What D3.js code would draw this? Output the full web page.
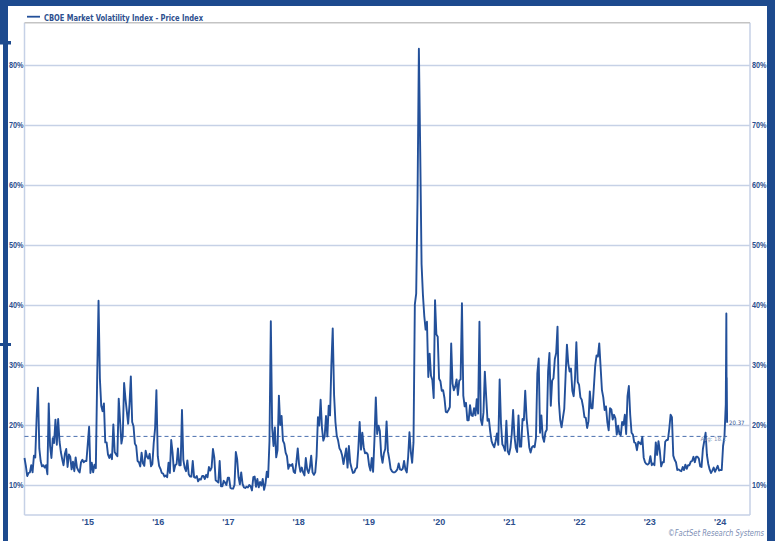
<!DOCTYPE html>
<html>
<head>
  <title>CBOE Market Volatility Index</title>
  <script src="https://d3js.org/d3.v7.min.js"></script>
  <style>
    body {
      margin: 0;
      background-color: #ffffff;
      font-family: "Liberation Sans Narrow", "Arial Narrow", "DejaVu Sans Condensed", sans-serif;
    }
    .axis text {
      font-size: 9px;
      font-weight: bold;
      fill: #2d4f8e;
    }
    .axis path { display: none; }
    .grid line {
      stroke: #c6d1e6;
      stroke-width: 1.5;
    }
    .grid path { display: none; }
    .vix-line {
      fill: none;
      stroke: #23509a;
      stroke-width: 1.9;
      stroke-linejoin: round;
    }
  </style>
</head>
<body>
  <div id="chart"></div>
  <script type="module">
    // weekly closes (Fridays)
    const vix2014 = [14.5, 13.2, 11.5, 12.0, 12.1, 13.3, 12.1, 14.9, 14.6, 21.2, 26.2, 16.1, 14.0, 13.1, 13.3, 12.9, 13.3, 11.8, 23.6, 16.5, 14.5];
    const vix2015 = [17.8, 17.0, 20.9, 16.7, 21.0, 17.3, 15.5, 14.3, 13.3, 15.2, 16.0, 13.0, 15.1, 14.7, 12.6, 13.9, 12.3,
      14.6, 12.9, 12.4, 12.1, 13.8, 14.2, 13.8, 14.0, 14.0, 16.8, 19.7, 12.0, 13.7, 12.1, 13.4, 12.8, 28.0, 40.7,
      27.8, 23.2, 22.3, 23.6, 17.1, 17.1, 15.1, 14.5, 15.1, 14.3, 20.1, 15.5, 15.1, 14.8, 24.4, 20.7, 16.9];
    const vix2016 = [18.2, 27.0, 24.4, 22.3, 20.2, 23.4, 28.1, 20.5, 19.8, 16.9, 16.5, 14.0, 13.8, 13.1, 15.4, 13.6, 13.2, 15.7,
      14.7, 14.4, 15.2, 13.1, 13.5, 17.0, 19.4, 25.8, 14.8, 13.2, 12.7, 12.0, 11.9, 11.4, 11.6, 11.3, 13.7,
      12.0, 17.5, 15.4, 12.3, 13.3, 13.5, 16.1, 13.3, 13.3, 22.5, 14.2, 12.9, 12.3, 14.1, 11.8, 11.4, 11.4, 14.0];
    const vix2017 = [11.3, 11.2, 11.5, 10.6, 11.0, 10.9, 11.5, 11.5, 11.0, 11.7, 11.3, 13.0, 12.4, 12.9, 16.0, 14.6, 10.8,
      10.6, 10.4, 14.0, 9.8, 9.8, 10.7, 10.4, 10.0, 11.2, 11.2, 9.5, 9.4, 9.4, 10.0, 15.5, 14.3, 11.3,
      10.1, 12.1, 10.2, 9.6, 9.5, 9.7, 9.6, 10.0, 9.8, 9.1, 11.3, 11.4, 9.7, 11.0, 9.6, 10.5, 9.9, 11.0];
    const vix2018 = [9.2, 10.2, 12.2, 11.3, 17.3, 37.3, 19.5, 16.5, 19.6, 14.6, 15.8, 24.9, 20.0, 21.5, 17.4, 16.9, 15.4,
      14.8, 12.7, 13.4, 13.2, 13.5, 12.2, 12.0, 13.8, 16.1, 13.4, 12.2, 12.9, 12.1, 11.6, 14.5, 12.6, 12.0, 12.9,
      14.9, 12.1, 11.7, 12.1, 14.8, 21.3, 19.9, 24.2, 19.5, 17.4, 18.1, 21.5, 18.1, 23.2, 21.6, 30.1, 36.1];
    const vix2019 = [25.0, 20.5, 18.2, 17.4, 16.1, 15.7, 14.9, 13.5, 14.8, 16.1, 12.9, 16.5, 13.7, 12.8, 12.0, 12.1, 12.7,
      12.9, 16.0, 20.5, 15.9, 18.7, 16.3, 15.3, 15.4, 15.1, 13.3, 12.4, 14.5, 12.2, 17.6, 24.6, 18.5, 19.9, 19.0,
      15.0, 13.7, 15.3, 16.0, 20.6, 15.6, 14.3, 12.7, 12.3, 12.1, 12.1, 12.3, 12.6, 13.6, 12.6, 12.5, 12.7];
    const vix2020 = [14.0, 12.6, 12.1, 14.6, 18.8, 15.5, 13.7, 17.1, 40.1, 41.9, 57.8, 82.7, 65.5, 46.8, 41.7, 38.2, 35.9,
      37.2, 28.0, 31.9, 28.2, 27.5, 24.5, 40.8, 35.1, 34.7, 27.7, 27.3, 25.7, 25.8, 24.5, 22.2, 22.1, 22.5, 23.0,
      33.6, 26.9, 25.8, 26.4, 27.6, 25.0, 27.4, 27.6, 40.3, 24.9, 23.1, 23.7, 20.8, 20.8, 23.3, 21.6, 21.5];
    const vix2021 = [22.8, 21.6, 24.3, 21.9, 37.2, 20.9, 20.0, 22.1, 28.9, 24.7, 20.7, 21.0, 18.9, 17.3, 16.7, 16.3, 17.3, 18.6,
      16.7, 27.6, 20.2, 16.8, 16.4, 15.7, 20.7, 15.6, 15.1, 16.2, 18.5, 22.5, 18.2, 16.2, 15.5, 21.6, 16.4,
      16.4, 21.0, 20.8, 25.7, 21.2, 18.8, 16.3, 15.4, 16.3, 16.5, 16.3, 17.9, 28.6, 31.1, 18.7, 21.6, 18.0, 17.2];
    const vix2022 = [18.8, 19.2, 28.9, 32.0, 23.2, 27.4, 27.8, 31.0, 32.0, 36.4, 23.9, 20.8, 19.6, 21.2, 22.7, 28.2, 33.4,
      30.2, 28.9, 29.4, 25.7, 24.8, 27.8, 33.8, 27.2, 26.7, 24.6, 24.2, 23.0, 21.3, 21.2, 19.5, 20.6, 25.6,
      22.8, 22.8, 26.3, 29.9, 31.6, 31.4, 33.6, 29.7, 25.8, 24.6, 22.5, 23.1, 20.5, 19.1, 22.8, 22.6, 20.9, 21.7];
    const vix2023 = [21.1, 18.4, 19.9, 18.5, 18.3, 20.5, 20.0, 21.7, 18.5, 24.8, 26.5, 21.7, 18.7, 18.4, 17.1, 17.0, 15.8,
      17.2, 17.0, 16.8, 18.0, 14.6, 13.8, 13.5, 13.4, 13.6, 14.8, 13.3, 13.6, 13.3, 17.1, 15.0, 17.3, 15.7,
      13.1, 13.8, 13.8, 17.2, 17.5, 17.5, 19.3, 21.7, 21.3, 14.9, 14.2, 13.8, 12.5, 12.6, 12.4, 12.3, 13.0, 12.5];
    const vix2024 = [13.4, 12.7, 13.3, 13.3, 13.9, 14.0, 14.7, 13.8, 14.7, 14.7, 14.4, 13.1, 13.0, 16.0, 17.3, 18.7, 15.0,
      13.5, 12.6, 12.0, 12.4, 12.9, 12.2, 12.7, 13.2, 12.4, 12.5, 12.5, 16.5, 18.0, 23.4];
    const firstFridays = ["2014-08-08", "2015-01-02", "2016-01-01", "2017-01-06", "2018-01-05", "2019-01-04",
      "2020-01-03", "2021-01-01", "2022-01-07", "2023-01-06", "2024-01-05"];
    const weeklySeries = [vix2014, vix2015, vix2016, vix2017, vix2018, vix2019, vix2020, vix2021, vix2022, vix2023, vix2024];

    // last days, daily closes
    const lastDays = ["2024-08-05", "2024-08-06", "2024-08-07", "2024-08-08", "2024-08-09"];
    const lastValues = [38.6, 27.7, 27.9, 23.8, 20.37];

    const avgValue = 18.1;
    const yTicks = [10, 20, 30, 40, 50, 60, 70, 80];
    const xTickDates = ["2015-07-01", "2016-07-01", "2017-07-01", "2018-07-01", "2019-07-01",
      "2020-07-01", "2021-07-01", "2022-07-01", "2023-07-01", "2024-07-01"];
    const xTickLabels = ["'15", "'16", "'17", "'18", "'19", "'20", "'21", "'22", "'23", "'24"];

    const parseDate = d3.timeParse("%Y-%m-%d");

    function createVixChart(selection, { width = 775, height = 541 }) {
      const plot = { left: 24.5, right: 750, top: 22.7, bottom: 515 };
      const frameColor = "#1d4a8e";
      const textColor = "#2d4f8e";

      // build the series from the weekly arrays
      const data = [];
      weeklySeries.forEach((vals, k) => {
        const start = parseDate(firstFridays[k]);
        vals.forEach((v, i) => data.push({ date: d3.timeWeek.offset(start, i), value: v }));
      });
      lastDays.forEach((d, i) => data.push({ date: parseDate(d), value: lastValues[i] }));

      const svg = selection.append("svg")
        .attr("width", width)
        .attr("height", height);

      const x = d3.scaleTime()
        .domain([parseDate("2014-08-08"), parseDate("2024-12-06")])
        .range([plot.left, plot.right]);

      const y = d3.scaleLinear()
        .domain([5, 87.05])
        .range([plot.bottom, plot.top]);

      // horizontal grid
      svg.append("g")
        .attr("class", "grid")
        .attr("transform", `translate(${plot.left},0)`)
        .call(d3.axisRight(y).tickValues(yTicks).tickSize(plot.right - plot.left).tickFormat(""));

      // plot border
      const border = svg.append("g").attr("stroke-width", 1.5);
      border.append("line")
        .attr("x1", plot.left).attr("x2", plot.left)
        .attr("y1", plot.top).attr("y2", plot.bottom)
        .attr("stroke", "#c6d1e6");
      border.append("line")
        .attr("x1", plot.right).attr("x2", plot.right)
        .attr("y1", plot.top).attr("y2", plot.bottom)
        .attr("stroke", "#c6d1e6");
      border.append("line")
        .attr("x1", plot.left).attr("x2", plot.right)
        .attr("y1", plot.bottom).attr("y2", plot.bottom)
        .attr("stroke", "#c6d1e6");
      border.append("line")
        .attr("x1", plot.left).attr("x2", plot.right)
        .attr("y1", plot.top).attr("y2", plot.top)
        .attr("stroke", "#c4c4c4");

      // y axes left and right, squeezed like the narrow original font
      svg.append("g")
        .attr("class", "axis")
        .attr("transform", `translate(${plot.left},0)`)
        .call(d3.axisLeft(y).tickValues(yTicks).tickSize(0).tickPadding(1).tickFormat(d => d + "%"))
        .selectAll("text")
          .attr("textLength", 14.5)
          .attr("lengthAdjust", "spacingAndGlyphs");
      svg.append("g")
        .attr("class", "axis")
        .attr("transform", `translate(${plot.right},0)`)
        .call(d3.axisRight(y).tickValues(yTicks).tickSize(0).tickPadding(2).tickFormat(d => d + "%"))
        .selectAll("text")
          .attr("textLength", 14.5)
          .attr("lengthAdjust", "spacingAndGlyphs");

      // x axis, labels centred in each year
      svg.append("g")
        .attr("class", "axis")
        .attr("transform", `translate(0,${plot.bottom})`)
        .call(d3.axisBottom(x)
          .tickValues(xTickDates.map(parseDate))
          .tickSize(0)
          .tickPadding(4)
          .tickFormat((d, i) => xTickLabels[i]));

      // average line
      const first = data[0].date;
      const last = data[data.length - 1].date;
      svg.append("line")
        .attr("x1", x(first)).attr("x2", x(last))
        .attr("y1", y(avgValue)).attr("y2", y(avgValue))
        .attr("stroke", "#4a6fae")
        .attr("stroke-width", 1)
        .attr("stroke-dasharray", "4,3");

      // the series
      const line = d3.line()
        .x(d => x(d.date))
        .y(d => y(d.value));

      svg.append("path")
        .datum(data)
        .attr("class", "vix-line")
        .attr("d", line);

      // last value and average tags
      svg.append("text")
        .attr("x", x(last) + 2)
        .attr("y", y(lastValues[lastValues.length - 1]) + 2)
        .attr("font-size", 6)
        .attr("fill", textColor)
        .text(d3.format(".2f")(lastValues[lastValues.length - 1]));

      svg.append("text")
        .attr("x", x(last) - 1)
        .attr("y", y(avgValue) + 5)
        .attr("text-anchor", "end")
        .attr("font-size", 6)
        .attr("fill", "#8595b8")
        .text("Avg: " + avgValue);

      // legend
      svg.append("line")
        .attr("x1", 27).attr("x2", 40)
        .attr("y1", 16.7).attr("y2", 16.7)
        .attr("stroke", "#23509a").attr("stroke-width", 1.8);
      svg.append("text")
        .attr("x", 44)
        .attr("y", 20.5)
        .attr("font-size", 9)
        .attr("font-weight", "bold")
        .attr("fill", textColor)
        .attr("textLength", 159)
        .attr("lengthAdjust", "spacingAndGlyphs")
        .text("CBOE Market Volatility Index - Price Index");

      // footer
      svg.append("text")
        .attr("x", 764)
        .attr("y", 535.5)
        .attr("text-anchor", "end")
        .attr("font-size", 8)
        .attr("font-style", "italic")
        .attr("fill", "#7b8db4")
        .attr("textLength", 96)
        .attr("lengthAdjust", "spacingAndGlyphs")
        .text("\u00A9FactSet Research Systems");

      // dark blue frame
      const frame = svg.append("g").attr("fill", frameColor);
      frame.append("rect").attr("x", 0).attr("y", 0).attr("width", width).attr("height", 6);
      frame.append("rect").attr("x", 0).attr("y", 0).attr("width", 8).attr("height", 44);
      frame.append("rect").attr("x", 3).attr("y", 0).attr("width", 5).attr("height", height);
      frame.append("rect").attr("x", 0).attr("y", 41).attr("width", 11).attr("height", 3.5);
      frame.append("rect").attr("x", 0).attr("y", 343).attr("width", 11).attr("height", 3);
      frame.append("rect").attr("x", 767).attr("y", 0).attr("width", 8).attr("height", height);
    }

    createVixChart(d3.select("#chart"), {});
  </script>
</body>
</html>
